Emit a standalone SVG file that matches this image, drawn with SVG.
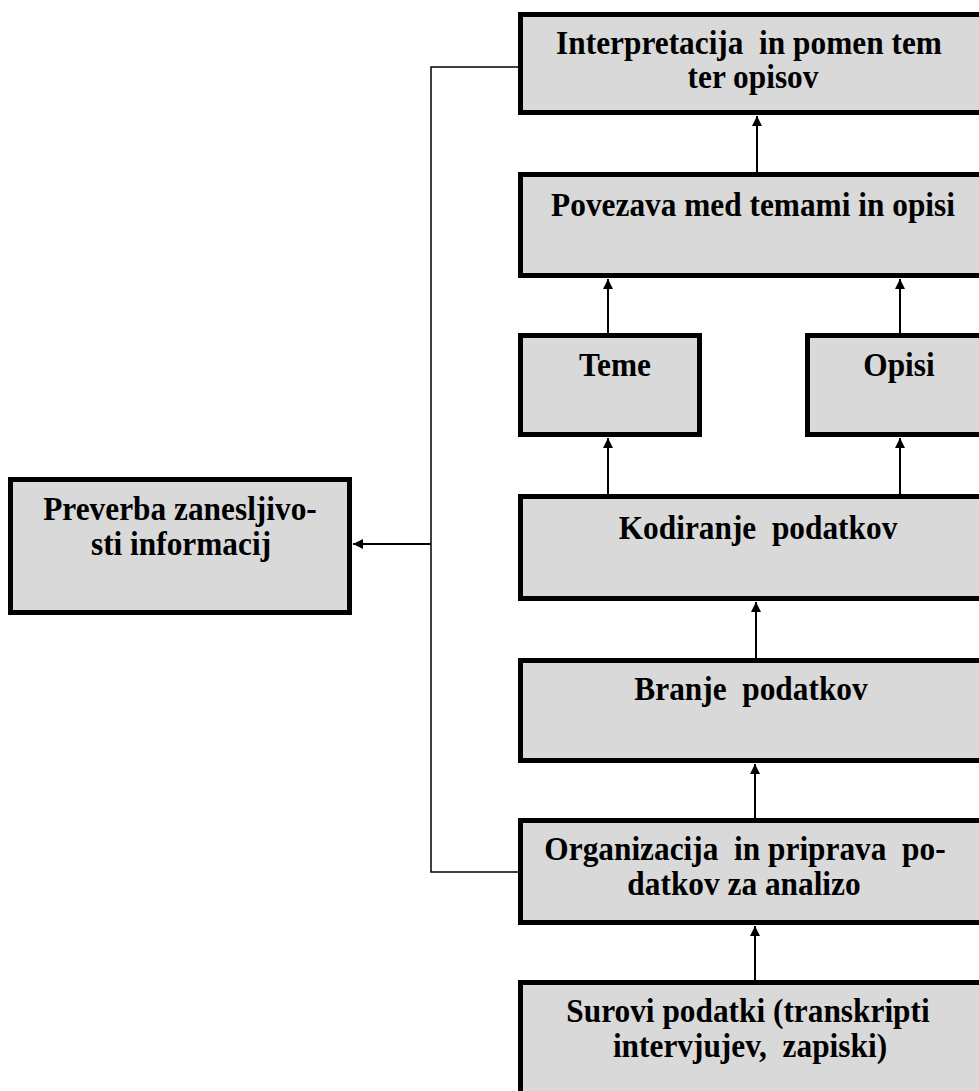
<svg xmlns="http://www.w3.org/2000/svg" width="979" height="1091" viewBox="0 0 979 1091">
<style>
.box{fill:#d9d9d9;stroke:#000;stroke-width:5}
.t{font-family:"Liberation Serif","Times New Roman",serif;font-weight:bold;font-size:33px;fill:#000;text-anchor:middle;white-space:pre}
.c{fill:none;stroke:#000;stroke-width:2}
.b{fill:none;stroke:#000;stroke-width:1.5}
</style>
<defs>
<marker id="ah" viewBox="0 0 10 10" refX="10" refY="5" markerWidth="10" markerHeight="10" markerUnits="userSpaceOnUse" orient="auto">
<path d="M0,0 L10,5 L0,10 z" fill="#000"/>
</marker>
</defs>
<rect width="979" height="1091" fill="#fff"/>
<g id="connectors">
<line class="c" x1="757" y1="172" x2="757" y2="116" marker-end="url(#ah)"/>
<line class="c" x1="608" y1="333" x2="608" y2="279" marker-end="url(#ah)"/>
<line class="c" x1="900" y1="333" x2="900" y2="279" marker-end="url(#ah)"/>
<line class="c" x1="608" y1="494" x2="608" y2="438" marker-end="url(#ah)"/>
<line class="c" x1="900" y1="494" x2="900" y2="438" marker-end="url(#ah)"/>
<line class="c" x1="756" y1="658" x2="756" y2="602" marker-end="url(#ah)"/>
<line class="c" x1="755" y1="818" x2="755" y2="764" marker-end="url(#ah)"/>
<line class="c" x1="755" y1="980" x2="755" y2="926" marker-end="url(#ah)"/>
<polyline class="b" points="518,67 431,67 431,872 518,872"/>
<line class="c" x1="431" y1="544" x2="353" y2="544" marker-end="url(#ah)"/>
</g>
<g id="n_interpretacija">
<rect class="box" x="520.5" y="14.5" width="480" height="98"/>
<text class="t" transform="translate(749,54) scale(0.95,1)">Interpretacija  in pomen tem</text>
<text class="t" transform="translate(753,88) scale(0.95,1)">ter opisov</text>
</g>
<g id="n_povezava">
<rect class="box" x="520.5" y="174.5" width="480" height="101"/>
<text class="t" transform="translate(753,216) scale(0.95,1)">Povezava med temami in opisi</text>
</g>
<g id="n_teme">
<rect class="box" x="520.5" y="335.5" width="179" height="99"/>
<text class="t" transform="translate(615,376) scale(0.95,1)">Teme</text>
</g>
<g id="n_opisi">
<rect class="box" x="807.5" y="335.5" width="200" height="99"/>
<text class="t" transform="translate(899,376) scale(0.95,1)">Opisi</text>
</g>
<g id="n_kodiranje">
<rect class="box" x="520.5" y="496.5" width="480" height="102"/>
<text class="t" transform="translate(758,539) scale(0.95,1)">Kodiranje  podatkov</text>
</g>
<g id="n_branje">
<rect class="box" x="520.5" y="660.5" width="480" height="100"/>
<text class="t" transform="translate(751,700) scale(0.95,1)">Branje  podatkov</text>
</g>
<g id="n_organizacija">
<rect class="box" x="520.5" y="820.5" width="480" height="102"/>
<text class="t" transform="translate(745,860) scale(0.95,1)">Organizacija  in priprava  po-</text>
<text class="t" transform="translate(744,895) scale(0.95,1)">datkov za analizo</text>
</g>
<g id="n_surovi">
<rect class="box" x="520.5" y="982.5" width="480" height="200"/>
<text class="t" transform="translate(748,1022) scale(0.95,1)">Surovi podatki (transkripti</text>
<text class="t" transform="translate(750,1057) scale(0.95,1)">intervjujev,  zapiski)</text>
</g>
<g id="n_preverba">
<rect class="box" x="10.5" y="479.5" width="339" height="133"/>
<text class="t" transform="translate(180,520) scale(0.95,1)">Preverba zanesljivo-</text>
<text class="t" transform="translate(181,555) scale(0.95,1)">sti informacij</text>
</g>
</svg>
